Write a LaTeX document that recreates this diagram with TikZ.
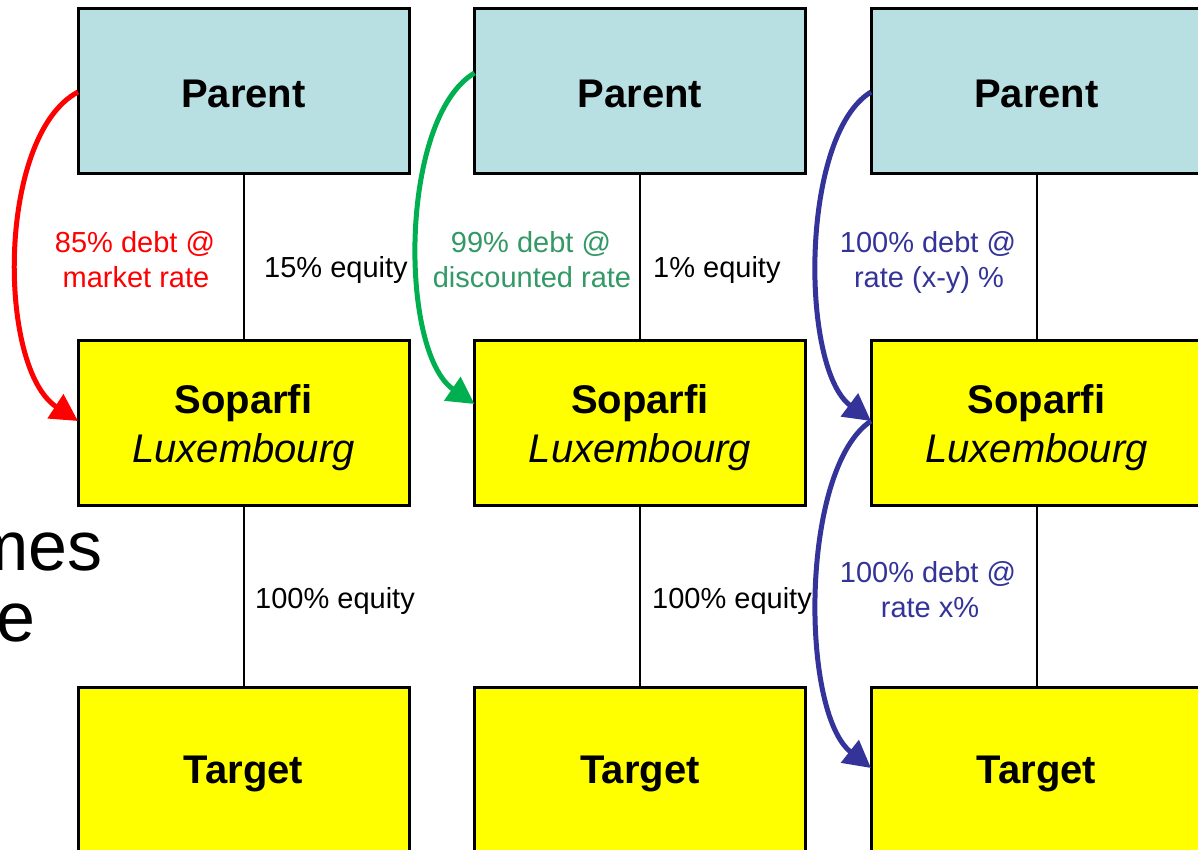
\documentclass[tikz,border=0pt]{standalone}
\usepackage{fontspec}
\setmainfont{Liberation Sans}
\usetikzlibrary{arrows.meta,calc}

\definecolor{parentfill}{HTML}{B8DFE2}
\definecolor{subfill}{HTML}{FFFF00}
\definecolor{debtred}{HTML}{FF0000}
\definecolor{debtgreen}{HTML}{00B050}
\definecolor{textgreen}{HTML}{339966}
\definecolor{debtblue}{HTML}{333399}

\tikzset{
  entity/.style={draw=black, line width=3pt, minimum width=331pt, inner sep=0pt, outer sep=0pt},
  parentbox/.style={entity, fill=parentfill, minimum height=165pt},
  subbox/.style={entity, fill=subfill, minimum height=165pt},
  targetbox/.style={entity, fill=subfill, minimum height=173pt},
  boxtitle/.style={anchor=base, inner sep=0pt, font=\fontsize{40}{48}\selectfont\bfseries},
  boxsub/.style={anchor=base, inner sep=0pt, font=\fontsize{40}{48}\selectfont\itshape},
  link/.style={draw=black, line width=2pt},
  share/.style={anchor=base west, inner sep=0pt, font=\fontsize{29}{35}\selectfont},
  debtlbl/.style={anchor=base, inner sep=0pt, font=\fontsize{29}{35}\selectfont},
  loan/.style={line width=5pt, -{Triangle[length=27pt,width=28pt]}},
  bigtext/.style={anchor=base east, inner sep=0pt, font=\fontsize{70}{70}\selectfont}
}

\begin{document}
\begin{tikzpicture}[x=1pt, y=-1pt]
\useasboundingbox (0,0) rectangle (1198,850);
\fill[white] (0,0) rectangle (1198,850);

% fragments of body text running behind the chart
\node[bigtext] (frag1) at (103,570) {mes};
\node[bigtext] (frag2) at (36,641) {e};

% three holding structures, one per column
\foreach \i/\cx in {1/243.5, 2/640, 3/1036.5} {
  \node[parentbox] (p\i) at (\cx,91.5) {};
  \node[subbox] (s\i) at (\cx,422.5) {};
  \node[targetbox] (t\i) at (\cx,773.5) {};
  \draw[link] (p\i.south) -- (s\i.north);
  \draw[link] (s\i.south) -- (t\i.north);
  \node[boxtitle] (p\i txt) at (\cx,108) {Parent};
  \node[boxtitle] (s\i txt) at (\cx,413) {Soparfi};
  \node[boxsub] (s\i sub) at (\cx,462) {Luxembourg};
  \node[boxtitle] (t\i txt) at (\cx,783) {Target};
}

% equity stakes
\node[share] (eq1) at (264,277) {15\% equity};
\node[share] (eq2) at (653,277) {1\% equity};
\node[share] (eq3) at (255,608) {100\% equity};
\node[share] (eq4) at (652,608) {100\% equity};

% loan anchor points on the left edges of the boxes
\coordinate (r0) at ($(p1.north west)+(0,83)$);
\coordinate (r1) at ($(s1.north west)+(0,81)$);
\coordinate (g0) at ($(p2.north west)+(0,64)$);
\coordinate (g1) at ($(s2.north west)+(0,64)$);
\coordinate (b0) at ($(p3.north west)+(0,83)$);
\coordinate (b1) at ($(s3.north west)+(0,81)$);
\coordinate (b2) at ($(t3.north west)+(0,81)$);

% shareholder loans
\draw[loan, debtred] (r0) .. controls (-3,135) and (-3,368) .. (r1);
\draw[loan, debtgreen] (g0) .. controls (399,118) and (399,352) .. (g1);
\draw[loan, debtblue] (b0) .. controls (800,135) and (800,368) .. (b1);
\draw[loan, debtblue] (b1) .. controls (800,468) and (800,712) .. (b2);

% loan terms
\node[debtlbl, text=debtred] (d1a) at (135,252) {85\% debt @};
\node[debtlbl, text=debtred] (d1b) at (136,287) {market rate};
\node[debtlbl, text=textgreen] (d2a) at (531,252) {99\% debt @};
\node[debtlbl, text=textgreen] (d2b) at (532,287) {discounted rate};
\node[debtlbl, text=debtblue] (d3a) at (928,252) {100\% debt @};
\node[debtlbl, text=debtblue] (d3b) at (929,287) {rate (x-y) \%};
\node[debtlbl, text=debtblue] (d4a) at (928,582) {100\% debt @};
\node[debtlbl, text=debtblue] (d4b) at (930,617) {rate x\%};
\end{tikzpicture}
\end{document}
